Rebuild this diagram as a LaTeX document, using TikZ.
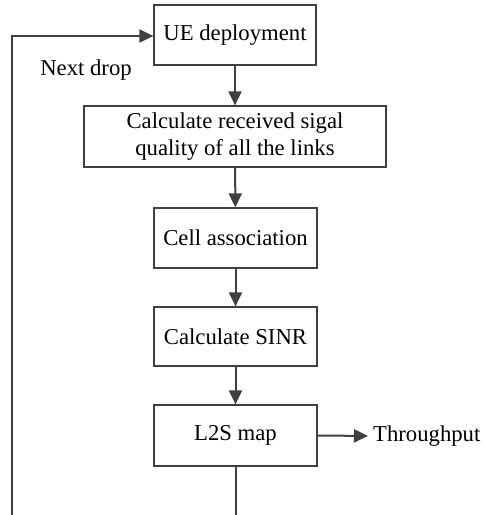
\documentclass[tikz,border=0pt]{standalone}
\usepackage{fontspec}
\setmainfont{Liberation Serif}
\usetikzlibrary{arrows.meta}
\definecolor{ln}{HTML}{404040}
\begin{document}
\begin{tikzpicture}[x=1pt,y=-1pt,
  box/.style={draw=ln,line width=1.2pt,fill=white,inner sep=0pt,align=center,
    font=\fontsize{22.7}{27}\selectfont},
  conn/.style={draw=ln,line width=2pt,-{Triangle[length=14pt,width=13pt]}},
  plain/.style={draw=ln,line width=2pt},
  lbl/.style={font=\fontsize{22.7}{26}\selectfont,inner sep=0pt}]
\useasboundingbox (0,0) rectangle (483,515);
\node[box,minimum width=162pt,minimum height=60pt] (ue) at (235,35) {UE deployment};
\node[box,minimum width=302pt,minimum height=61pt] (calc) at (235,136.5) {Calculate received sigal\\quality of all the links};
\node[box,minimum width=163pt,minimum height=60pt] (cell) at (235.5,238) {Cell association};
\node[box,minimum width=163pt,minimum height=59pt] (sinr) at (235.5,336.5) {Calculate SINR};
\node[box,minimum width=163pt,minimum height=61pt] (l2s) at (235.5,435.5) {L2S map};
\node[lbl,anchor=west] (tp) at (373,436) {Throughput};
\node[lbl] (nd) at (86,70) {Next drop};
\coordinate (bot) at (235.5,515);
\coordinate (bl) at (12,515);
\coordinate (tl) at (12,36);
\draw[conn] (ue) -- (calc);
\draw[conn] (calc) -- (cell);
\draw[conn] (cell) -- (sinr);
\draw[conn] (sinr) -- (l2s);
\draw[conn,shorten >=5pt] (l2s.east) -- (tp.west);
\draw[plain] (l2s.south) -- (bot);
\draw[conn] (bl) -- (tl) -- (tl -| ue.west);
\end{tikzpicture}
\end{document}
